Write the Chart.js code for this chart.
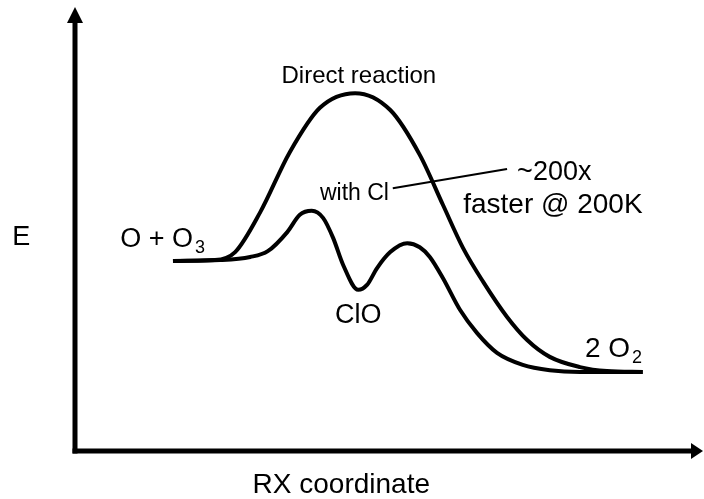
<!DOCTYPE html>
<html>
<head>
<meta charset="utf-8">
<script src="https://cdn.jsdelivr.net/npm/chart.js@4.4.1/dist/chart.umd.min.js"></script>
<style>
  body { margin: 0; background: #fff; }
  canvas { display: block; }
</style>
</head>
<body>
<canvas id="energy-chart" width="704" height="499"></canvas>
<script>
// reaction coordinate / energy (arbitrary units 0-100)
const directX = [15.6, 22.3, 25.5, 29.5, 34.2, 39.0, 44.6, 50.2, 54.9, 58.6, 61.8, 65.0, 68.8, 72.0, 75.6, 80.4, 84.7, 90.4]
const directE = [42.8, 43.0, 44.8, 53.8, 67.3, 77.3, 80.6, 76.8, 66.7, 55.4, 45.7, 38.1, 30.2, 25.0, 21.2, 18.9, 18.0, 17.8]

const clX = [15.6, 23.1, 27.9, 30.7, 33.8, 35.8, 37.7, 39.5, 41.1, 42.7, 45.1, 46.5, 48.1, 50.2, 52.9, 54.9, 56.5, 58.6, 61.3, 64.0, 67.2, 71.3, 75.6, 80.4, 90.4]
const clE = [42.8, 43.0, 43.7, 45.0, 49.3, 53.2, 54.1, 52.5, 48.0, 41.9, 36.3, 37.4, 41.2, 44.8, 46.8, 45.9, 43.7, 38.9, 31.8, 26.6, 22.1, 19.4, 18.2, 17.8, 17.8]

// text labels
const labels = [
  { text: "E", x: -10.0, y: 46.4, size: 27, align: "left" },
  { text: "O + O", x: 7.2, y: 45.9, size: 27, align: "left" },
  { text: "3", x: 19.1, y: 44.6, size: 18, align: "left" },
  { text: "Direct reaction", x: 45.2, y: 82.9, size: 24, align: "center" },
  { text: "with Cl", x: 39.0, y: 56.5, size: 23, align: "left" },
  { text: "~200x", x: 70.4, y: 61.0, size: 27, align: "left" },
  { text: "faster @ 200K", x: 76.1, y: 53.6, size: 28, align: "center" },
  { text: "ClO", x: 41.4, y: 28.8, size: 27, align: "left" },
  { text: "2 O", x: 81.2, y: 21.2, size: 28, align: "left" },
  { text: "2", x: 88.7, y: 19.8, size: 18, align: "left" },
  { text: "RX coordinate", x: 42.4, y: -9.5, size: 28, align: "center" },
]
const leader = [[50.6, 59.2], [68.8, 63.5]]

function toPoints(xs, ys) {
  return xs.map(function (x, i) { return { x: x, y: ys[i] } })
}

// arrows for the axes + annotation text
const diagramPlugin = {
  id: "diagram",
  afterDraw(chart) {
    const ctx = chart.ctx
    const a = chart.chartArea
    const sx = chart.scales.x
    const sy = chart.scales.y
    ctx.save()
    ctx.fillStyle = "#000"
    ctx.strokeStyle = "#000"

    // y axis
    ctx.lineWidth = 5
    ctx.beginPath()
    ctx.moveTo(a.left, a.bottom + 2.5)
    ctx.lineTo(a.left, a.top + 15)
    ctx.stroke()
    ctx.beginPath()
    ctx.moveTo(a.left, a.top)
    ctx.lineTo(a.left - 8, a.top + 16)
    ctx.lineTo(a.left + 8, a.top + 16)
    ctx.closePath()
    ctx.fill()

    // x axis
    ctx.beginPath()
    ctx.moveTo(a.left - 2.5, a.bottom)
    ctx.lineTo(a.right - 12, a.bottom)
    ctx.stroke()
    ctx.beginPath()
    ctx.moveTo(a.right, a.bottom)
    ctx.lineTo(a.right - 12, a.bottom - 8)
    ctx.lineTo(a.right - 12, a.bottom + 8)
    ctx.closePath()
    ctx.fill()

    // leader line from "with Cl"
    ctx.lineWidth = 2
    ctx.beginPath()
    ctx.moveTo(sx.getPixelForValue(leader[0][0]), sy.getPixelForValue(leader[0][1]))
    ctx.lineTo(sx.getPixelForValue(leader[1][0]), sy.getPixelForValue(leader[1][1]))
    ctx.stroke()

    ctx.textBaseline = "alphabetic"
    labels.forEach(function (l) {
      ctx.font = l.size + "px 'Liberation Sans', Arial, sans-serif"
      ctx.textAlign = l.align
      ctx.fillText(l.text, sx.getPixelForValue(l.x), sy.getPixelForValue(l.y))
    })
    ctx.restore()
  },
}

let ctxChart = document.getElementById("energy-chart").getContext("2d")
let energyChart = new Chart(ctxChart, {
  type: "line",
  data: {
    datasets: [
      {
        label: "Direct reaction",
        data: toPoints(directX, directE),
        borderColor: "#000",
        borderWidth: 4,
        borderJoinStyle: "round",
        pointRadius: 0,
        fill: false,
        cubicInterpolationMode: "monotone",
      },
      {
        label: "with Cl",
        data: toPoints(clX, clE),
        borderColor: "#000",
        borderWidth: 4,
        borderJoinStyle: "round",
        pointRadius: 0,
        fill: false,
        cubicInterpolationMode: "monotone",
      },
    ],
  },
  options: {
    responsive: false,
    animation: false,
    devicePixelRatio: 1,
    layout: { padding: { left: 75, right: 1, top: 7, bottom: 48 } },
    scales: {
      x: { type: "linear", min: 0, max: 100, display: false },
      y: { type: "linear", min: 0, max: 100, display: false },
    },
    plugins: {
      legend: { display: false },
      tooltip: { enabled: false },
    },
  },
  plugins: [diagramPlugin],
})
</script>
</body>
</html>
